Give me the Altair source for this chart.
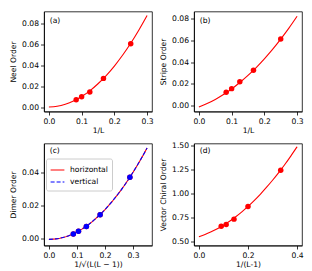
import altair as alt
import pandas as pd

# ---- data ----
# (a) Neel order vs 1/L
neel_pts_x = [0.0833, 0.1, 0.125, 0.1667, 0.25]
neel_pts_y = [0.0076, 0.0104, 0.0149, 0.0278, 0.0607]
curve_x_ab = [0.0, 0.025, 0.05, 0.075, 0.1, 0.125, 0.15, 0.175, 0.2, 0.225, 0.25, 0.275, 0.3]
neel_curve = [0.0007, 0.0014, 0.0033, 0.0063, 0.0106, 0.0160, 0.0227, 0.0305, 0.0395, 0.0497, 0.0611, 0.0737, 0.0874]

# (b) Stripe order vs 1/L
stripe_pts_x = [0.0833, 0.1, 0.125, 0.1667, 0.25]
stripe_pts_y = [0.0124, 0.0157, 0.0220, 0.0326, 0.0610]
stripe_curve = [-0.0010, 0.0021, 0.0058, 0.0103, 0.0154, 0.0213, 0.0278, 0.0350, 0.0430, 0.0516, 0.0610, 0.0710, 0.0818]

# (c) Dimer order vs 1/sqrt(L(L-1))
dimer_pts_x = [0.0870, 0.1054, 0.1336, 0.1826, 0.2887]
dimer_pts_y = [0.0030, 0.0046, 0.0075, 0.0145, 0.0372]
curve_x_c = [0.0, 0.025, 0.05, 0.075, 0.1, 0.125, 0.15, 0.175, 0.2, 0.225, 0.25, 0.275, 0.3, 0.325, 0.35]
dimer_curve_h = [-0.0003, 0.0000, 0.0008, 0.0022, 0.0042, 0.0067, 0.0098, 0.0135, 0.0177, 0.0225, 0.0278, 0.0337, 0.0402, 0.0472, 0.0548]
dimer_curve_v = [-0.0003, 0.0000, 0.0008, 0.0022, 0.0042, 0.0067, 0.0098, 0.0135, 0.0177, 0.0225, 0.0278, 0.0337, 0.0402, 0.0472, 0.0548]
series_names = ["horizontal", "vertical"]

# (d) Vector chiral order vs 1/(L-1)
chiral_pts_x = [0.0909, 0.1111, 0.1429, 0.2, 0.3333]
chiral_pts_y = [0.659, 0.679, 0.734, 0.866, 1.241]
curve_x_d = [0.0, 0.025, 0.05, 0.075, 0.1, 0.125, 0.15, 0.175, 0.2, 0.225, 0.25, 0.275, 0.3, 0.325, 0.35, 0.375, 0.4]
chiral_curve = [0.552, 0.575, 0.602, 0.634, 0.671, 0.712, 0.759, 0.810, 0.866, 0.927, 0.992, 1.063, 1.138, 1.218, 1.302, 1.392, 1.486]

RED = "#ff0000"
BLUE = "#0000ff"
FS = 7.6
W = 108


def axes(xdom, ydom, xvals, yvals, xtitle, ytitle, xfmt=".1f", yfmt=".2f"):
    x = alt.X("x:Q", scale=alt.Scale(domain=xdom, nice=False, zero=False),
              axis=alt.Axis(values=xvals, format=xfmt, title=xtitle))
    y = alt.Y("y:Q", scale=alt.Scale(domain=ydom, nice=False, zero=False),
              axis=alt.Axis(values=yvals, format=yfmt, title=ytitle))
    return x, y


def label(txt, ypos):
    return alt.Chart(pd.DataFrame({"t": [txt]})).mark_text(
        align="left", baseline="middle", fontSize=FS, font="DejaVu Sans", color="black"
    ).encode(text="t:N", x=alt.value(5.7), y=alt.value(ypos))


def simple_panel(cx, cy, px, py, xdom, ydom, xvals, yvals, xtitle, ytitle, txt, h, ypos):
    x, y = axes(xdom, ydom, xvals, yvals, xtitle, ytitle)
    cdf = pd.DataFrame({"x": cx, "y": cy})
    pdf = pd.DataFrame({"x": px, "y": py})
    line = alt.Chart(cdf).mark_line(color=RED, strokeWidth=1.1, interpolate="monotone", clip=True).encode(x=x, y=y)
    pts = alt.Chart(pdf).mark_point(filled=True, color=RED, size=30, opacity=1).encode(x=x, y=y)
    return alt.layer(line, pts, label(txt, ypos)).properties(width=W, height=h)


pa = simple_panel(curve_x_ab, neel_curve, neel_pts_x, neel_pts_y,
                  [-0.015, 0.315], [-0.0036, 0.0912], [0.0, 0.1, 0.2, 0.3],
                  [0.0, 0.02, 0.04, 0.06, 0.08], "1/L", "Neel Order", "(a)", 100, 9.5)
pb = simple_panel(curve_x_ab, stripe_curve, stripe_pts_x, stripe_pts_y,
                  [-0.015, 0.315], [-0.0052, 0.0862], [0.0, 0.1, 0.2, 0.3],
                  [0.0, 0.02, 0.04, 0.06, 0.08], "1/L", "Stripe Order", "(b)", 100, 9.5)
pd_ = simple_panel(curve_x_d, chiral_curve, chiral_pts_x, chiral_pts_y,
                   [-0.02, 0.42], [0.46, 1.52], [0.0, 0.2, 0.4],
                   [0.5, 0.75, 1.0, 1.25, 1.5], "1/(L-1)", "Vector Chiral Order", "(d)", 102, 7.5)

# (c) panel with legend
xc, yc = axes([-0.0175, 0.3675], [-0.004, 0.0575], [0.0, 0.1, 0.2, 0.3],
              [0.0, 0.02, 0.04], "1/√(L(L − 1))", "Dimer Order")
cdf_c = pd.DataFrame({
    "x": curve_x_c + curve_x_c,
    "y": dimer_curve_h + dimer_curve_v,
    "series": [series_names[0]] * len(curve_x_c) + [series_names[1]] * len(curve_x_c),
})
pdf_c = pd.DataFrame({"x": dimer_pts_x, "y": dimer_pts_y})
leg = alt.Legend(orient="none", legendX=2, legendY=147, title=None, fillColor="white",
                 strokeColor="#cccccc", padding=4, cornerRadius=2, symbolType="stroke",
                 symbolSize=190, symbolStrokeWidth=1.2, labelFontSize=FS, labelFont="DejaVu Sans",
                 labelColor="black", rowPadding=0, labelOffset=5)
line_c = alt.Chart(cdf_c).mark_line(strokeWidth=1.1, interpolate="monotone", clip=True).encode(
    x=xc, y=yc,
    color=alt.Color("series:N", scale=alt.Scale(domain=series_names, range=[RED, BLUE]), legend=leg),
    strokeDash=alt.StrokeDash("series:N", scale=alt.Scale(domain=series_names, range=[[1, 0], [4, 2]]), legend=leg),
    order=alt.Order("series:N"),
)
pts_c_r = alt.Chart(pdf_c).mark_point(filled=True, color=RED, size=30, opacity=1).encode(x=xc, y=yc)
pts_c_b = alt.Chart(pdf_c).mark_point(filled=True, color=BLUE, size=30, opacity=1).encode(x=xc, y=yc)
pc = alt.layer(line_c, pts_c_r, pts_c_b, label("(c)", 7.5)).properties(width=W, height=102)

chart = alt.concat(pa, pb, pc, pd_, columns=2).properties(
    bounds="flush",
    spacing={"row": 32, "column": 42},
    padding={"top": 2.5, "left": 1, "right": 0, "bottom": 0},
).configure_axis(
    grid=False, tickSize=3.5, labelPadding=2, labelFontSize=FS, titleFontSize=FS,
    labelFont="DejaVu Sans", titleFont="DejaVu Sans", domainColor="black", tickColor="black",
    labelColor="black", titleColor="black", titleFontWeight="normal", domainWidth=0.8, tickWidth=0.8,
).configure_axisX(titlePadding=2).configure_axisY(titlePadding=4).configure_view(
    stroke="black", strokeWidth=0.8
)

chart.save("out.html", embed_options={"renderer": "svg", "actions": False})
